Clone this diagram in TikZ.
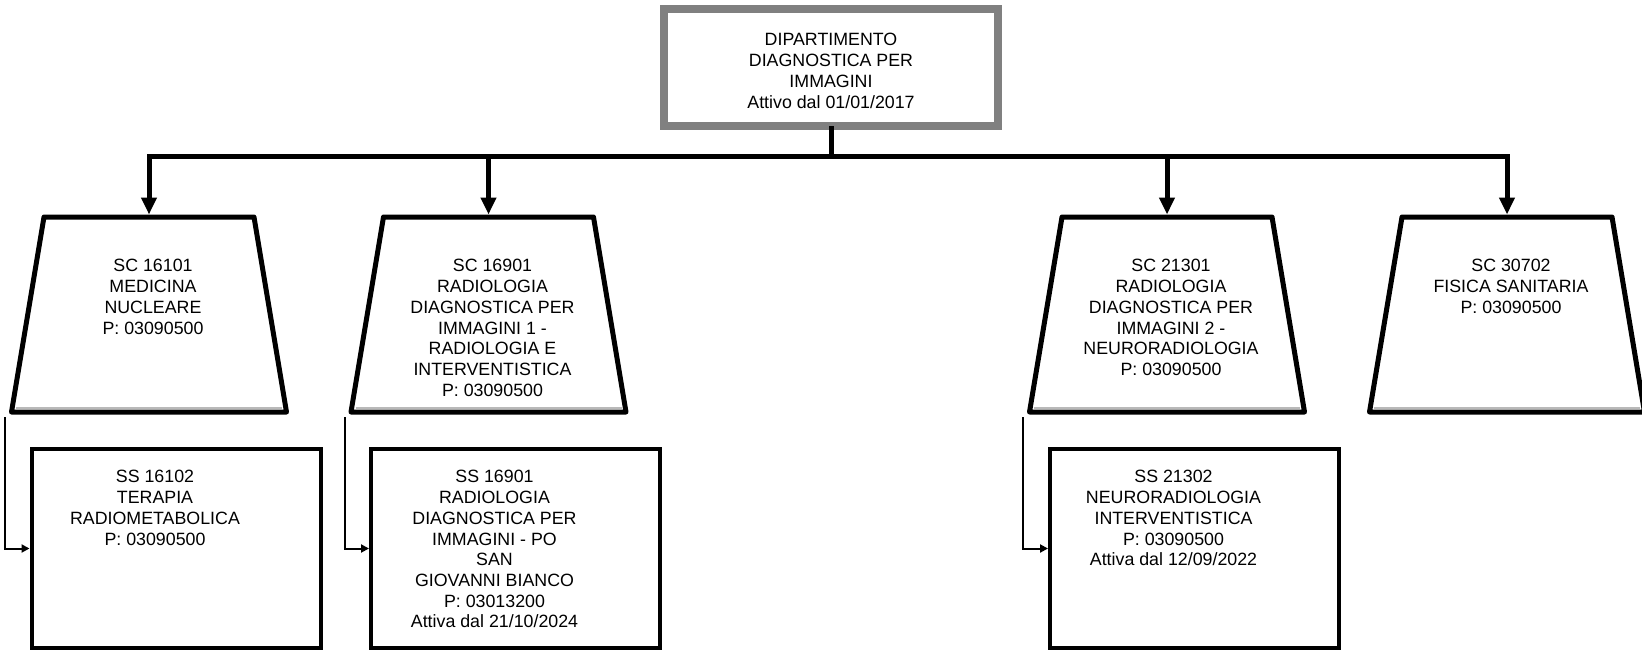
\documentclass[tikz,border=0pt]{standalone}
\usepackage{fontspec}
\setmainfont{Liberation Sans}
\usetikzlibrary{arrows.meta}
\definecolor{topgray}{RGB}{128,128,128}
\definecolor{shade}{RGB}{185,185,185}
\begin{document}
\begin{tikzpicture}[x=1pt,y=-1pt,
  every node/.style={inner sep=0pt, outer sep=0pt},
  txt/.style={align=center, font=\fontsize{17.8}{20.7}\selectfont, anchor=north},
  topbox/.style={draw=topgray, line width=8pt, fill=white, minimum width=333.5pt, minimum height=117pt},
  tzframe/.style={minimum width=275pt, minimum height=195pt},
  tzline/.style={draw=black, line width=5pt, line join=round, fill=white},
  tzshade/.style={draw=shade, line width=2pt},
  childbox/.style={draw=black, line width=4pt, fill=white, minimum width=289pt, minimum height=199pt},
  bus/.style={line width=5pt},
  drop/.style={line width=5pt, -{Triangle[length=17pt,width=15pt]}},
  sub/.style={line width=2pt, -{Triangle[length=8pt,width=8pt]}},
]
\useasboundingbox (0,0) rectangle (1642,653);

% top box
\node[topbox] (top) at (831,67.5) {};
\node[txt] (toptxt) at (831,33.5) {DIPARTIMENTO\\DIAGNOSTICA PER\\IMMAGINI\\Attivo dal 01/01/2017};

% trapezoid frames
\node[tzframe] (t1) at (149,314.5) {};
\node[tzframe] (t2) at (488.5,314.5) {};
\node[tzframe] (t3) at (1167,314.5) {};
\node[tzframe] (t4) at (1507,314.5) {};
\foreach \t in {t1,t2,t3,t4}{
  \draw[tzline] ([xshift=32.5pt]\t.north west) -- ([xshift=-32.5pt]\t.north east)
     -- (\t.south east) -- (\t.south west) -- cycle;
  \draw[tzshade] ([xshift=4.5pt,yshift=4.5pt]\t.south west) -- ([xshift=-4.5pt,yshift=4.5pt]\t.south east);
}

% bus and drops
\coordinate (busM) at (831,156);
\draw[bus] (top.south) -- (busM);
\draw[drop] (busM) -| ([yshift=2.5pt]t1.north);
\draw[drop] (busM) -| ([yshift=2.5pt]t4.north);
\draw[drop] (t2.north |- busM) -- ([yshift=2.5pt]t2.north);
\draw[drop] (t3.north |- busM) -- ([yshift=2.5pt]t3.north);

% child boxes
\node[childbox] (b1) at (176,548.5) {};
\node[childbox] (b2) at (515.5,548.5) {};
\node[childbox] (b3) at (1194.5,548.5) {};

% sub connectors
\coordinate (c1) at ([xshift=-6.5pt,yshift=-5pt]t1.south west);
\coordinate (c2) at ([xshift=-6.5pt,yshift=-5pt]t2.south west);
\coordinate (c3) at ([xshift=-6.5pt,yshift=-5pt]t3.south west);
\draw[sub] (c1) |- ([xshift=-2pt]b1.west);
\draw[sub] (c2) |- ([xshift=-2pt]b2.west);
\draw[sub] (c3) |- ([xshift=-2pt]b3.west);

% texts
\node[txt] (t1txt) at ([xshift=4pt,yshift=-42.5pt]t1.north) {SC 16101\\MEDICINA\\NUCLEARE\\P: 03090500};
\node[txt] (t2txt) at ([xshift=4pt,yshift=-42.5pt]t2.north) {SC 16901\\RADIOLOGIA\\DIAGNOSTICA PER\\IMMAGINI 1 -\\RADIOLOGIA E\\INTERVENTISTICA\\P: 03090500};
\node[txt] (t3txt) at ([xshift=4pt,yshift=-42.5pt]t3.north) {SC 21301\\RADIOLOGIA\\DIAGNOSTICA PER\\IMMAGINI 2 -\\NEURORADIOLOGIA\\P: 03090500};
\node[txt] (t4txt) at ([xshift=4pt,yshift=-42.5pt]t4.north) {SC 30702\\FISICA SANITARIA\\P: 03090500};

\node[txt] (b1txt) at ([xshift=-21pt,yshift=-21.5pt]b1.north) {SS 16102\\TERAPIA\\RADIOMETABOLICA\\P: 03090500};
\node[txt] (b2txt) at ([xshift=-21pt,yshift=-21.5pt]b2.north) {SS 16901\\RADIOLOGIA\\DIAGNOSTICA PER\\IMMAGINI - PO\\SAN\\GIOVANNI BIANCO\\P: 03013200\\Attiva dal 21/10/2024};
\node[txt] (b3txt) at ([xshift=-21pt,yshift=-21.5pt]b3.north) {SS 21302\\NEURORADIOLOGIA\\INTERVENTISTICA\\P: 03090500\\Attiva dal 12/09/2022};
\end{tikzpicture}
\end{document}
